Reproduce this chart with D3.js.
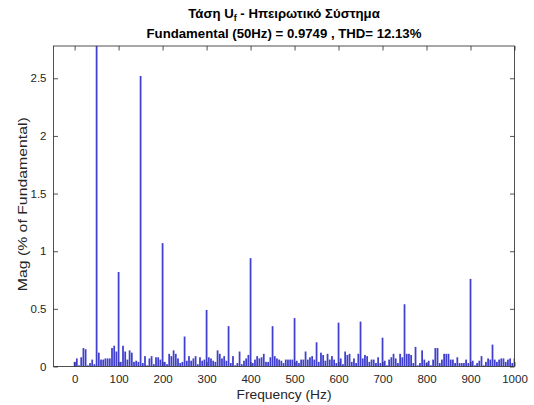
<!DOCTYPE html>
<html>
<head>
<meta charset="utf-8">
<script src="https://cdn.jsdelivr.net/npm/d3@7"></script>
<style>
  body { margin: 0; background: #fff; }
  svg { display: block; }
  text { font-family: "Liberation Sans", Arial, sans-serif; fill: #262626; }
</style>
</head>
<body>
<svg id="chart" width="534" height="405"></svg>
<script>
// Harmonic spectrum, 5 Hz bins from 0 to 1000 Hz, magnitude in % of fundamental
const freqStep = 5;
const magnitudes = [
  0.04,0.07,0.01,0.08,0.16,0.15,0.01,0.03,0.06,0.02,
  100,0.12,0.06,0.06,0.07,0.07,0.07,0.16,0.18,0.13,
  0.82,0.04,0.18,0.13,0.06,0.14,0.12,0.04,0.05,0.04,
  2.52,0.03,0.09,0.01,0.07,0.09,0.02,0.08,0.08,0.06,
  1.07,0.04,0.02,0.11,0.09,0.14,0.11,0.07,0.03,0.04,
  0.26,0.05,0.09,0.05,0.07,0.09,0.02,0.08,0.05,0.06,
  0.49,0.08,0.07,0.05,0.04,0.14,0.11,0.07,0.09,0.05,
  0.35,0.03,0.09,0.01,0.03,0.13,0.02,0.05,0.07,0.10,
  0.94,0.03,0.06,0.09,0.07,0.08,0.11,0.04,0.04,0.08,
  0.35,0.09,0.07,0.06,0.05,0.03,0.06,0.06,0.06,0.06,
  0.42,0.05,0.03,0.06,0.06,0.13,0.06,0.08,0.09,0.06,
  0.21,0.04,0.12,0.10,0.05,0.11,0.06,0.09,0.06,0.03,
  0.38,0.07,0.02,0.13,0.10,0.11,0.04,0.07,0.03,0.11,
  0.39,0.07,0.10,0.09,0.04,0.06,0.06,0.03,0.08,0.03,
  0.25,0.05,0.01,0.06,0.08,0.11,0.07,0.03,0.11,0.08,
  0.54,0.11,0.11,0.10,0.03,0.17,0.01,0.03,0.14,0.06,
  0.03,0.05,0.01,0.06,0.16,0.16,0.03,0.06,0.11,0.11,
  0.11,0.06,0.06,0.03,0.08,0.03,0.03,0.03,0.06,0.03,
  0.76,0.05,0.01,0.03,0.05,0.09,0.01,0.04,0.07,0.06,
  0.19,0.06,0.04,0.06,0.07,0.07,0.04,0.06,0.07,0.03,
  0.07
];
const xTicks = [0,100,200,300,400,500,600,700,800,900,1000];
const yTicks = [0,0.5,1,1.5,2,2.5];
const titleLines = ["Τάση U", "Fundamental (50Hz) = 0.9749 , THD= 12.13%"];
const xLabel = "Frequency (Hz)";
const yLabel = "Mag (% of Fundamental)";

const data = magnitudes.map((m, i) => ({ f: i * freqStep, m }));

const svg = d3.select("#chart");
const plotL = 53.5, plotR = 514.5, plotT = 46, plotB = 366.5;

const x = d3.scaleLinear().domain([-48, 1000]).range([plotL, plotR]);
const y = d3.scaleLinear().domain([0, 2.78]).range([plotB, plotT]);

svg.append("clipPath").attr("id", "plotclip")
  .append("rect").attr("x", plotL).attr("y", plotT)
  .attr("width", plotR - plotL).attr("height", plotB - plotT);

// bars (80% of bin width)
const bw = (x(freqStep * 0.8) - x(0));
svg.append("g").attr("clip-path", "url(#plotclip)")
  .selectAll("rect").data(data).join("rect")
  .attr("x", d => x(d.f) - bw / 2)
  .attr("width", bw)
  .attr("y", d => y(d.m))
  .attr("height", d => y(0) - y(d.m))
  .attr("fill", "#4040cc");

// axes with inward ticks, mirrored on top and right
const tickLen = 4.5;
const axisColor = "#262626";
function styleAxis(g) {
  g.select(".domain").remove();
  g.selectAll("line").attr("stroke", axisColor).attr("stroke-width", 0.8);
  g.selectAll("text").attr("font-size", 11.5).attr("fill", "#333")
    .style("font-family", "'Liberation Sans', Arial, sans-serif");
}
svg.append("g").attr("transform", `translate(0,${plotB})`)
  .call(d3.axisBottom(x).tickValues(xTicks).tickSizeInner(-tickLen).tickSizeOuter(0).tickPadding(8).tickFormat(d3.format("d")))
  .call(styleAxis);
svg.append("g").attr("transform", `translate(0,${plotT})`)
  .call(d3.axisTop(x).tickValues(xTicks).tickSizeInner(-tickLen).tickSizeOuter(0).tickFormat(""))
  .call(styleAxis);
svg.append("g").attr("transform", `translate(${plotL},0)`)
  .call(d3.axisLeft(y).tickValues(yTicks).tickSizeInner(-tickLen).tickSizeOuter(0).tickPadding(7).tickFormat(d => String(d)))
  .call(styleAxis);
svg.append("g").attr("transform", `translate(${plotR},0)`)
  .call(d3.axisRight(y).tickValues(yTicks).tickSizeInner(-tickLen).tickSizeOuter(0).tickFormat(""))
  .call(styleAxis);

svg.append("rect").attr("x", plotL).attr("y", plotT)
  .attr("width", plotR - plotL).attr("height", plotB - plotT)
  .attr("fill", "none").attr("stroke", axisColor).attr("stroke-width", 0.8);

// titles
const cx = (plotL + plotR) / 2;
const t1 = svg.append("text").attr("x", cx).attr("y", 18)
  .attr("text-anchor", "middle").attr("font-size", 13.2).attr("font-weight", "bold")
  .style("fill", "#000");
t1.append("tspan").text(titleLines[0]);
t1.append("tspan").attr("font-size", 9).attr("dy", 3).text("f");
t1.append("tspan").attr("dy", -3).text(" - Ηπειρωτικό Σύστημα");
svg.append("text").attr("x", cx).attr("y", 37.5)
  .attr("text-anchor", "middle").attr("font-size", 13.2).attr("font-weight", "bold")
  .style("fill", "#000").text(titleLines[1]);

svg.append("text").attr("x", cx).attr("y", 399)
  .attr("text-anchor", "middle").attr("font-size", 13.5)
  .attr("textLength", 95).attr("lengthAdjust", "spacingAndGlyphs").text(xLabel);
svg.append("text").attr("transform", `translate(27,${(plotT + plotB) / 2 - 2}) rotate(-90)`)
  .attr("text-anchor", "middle").attr("font-size", 12.5)
  .attr("textLength", 174).attr("lengthAdjust", "spacingAndGlyphs").text(yLabel);
</script>
</body>
</html>
